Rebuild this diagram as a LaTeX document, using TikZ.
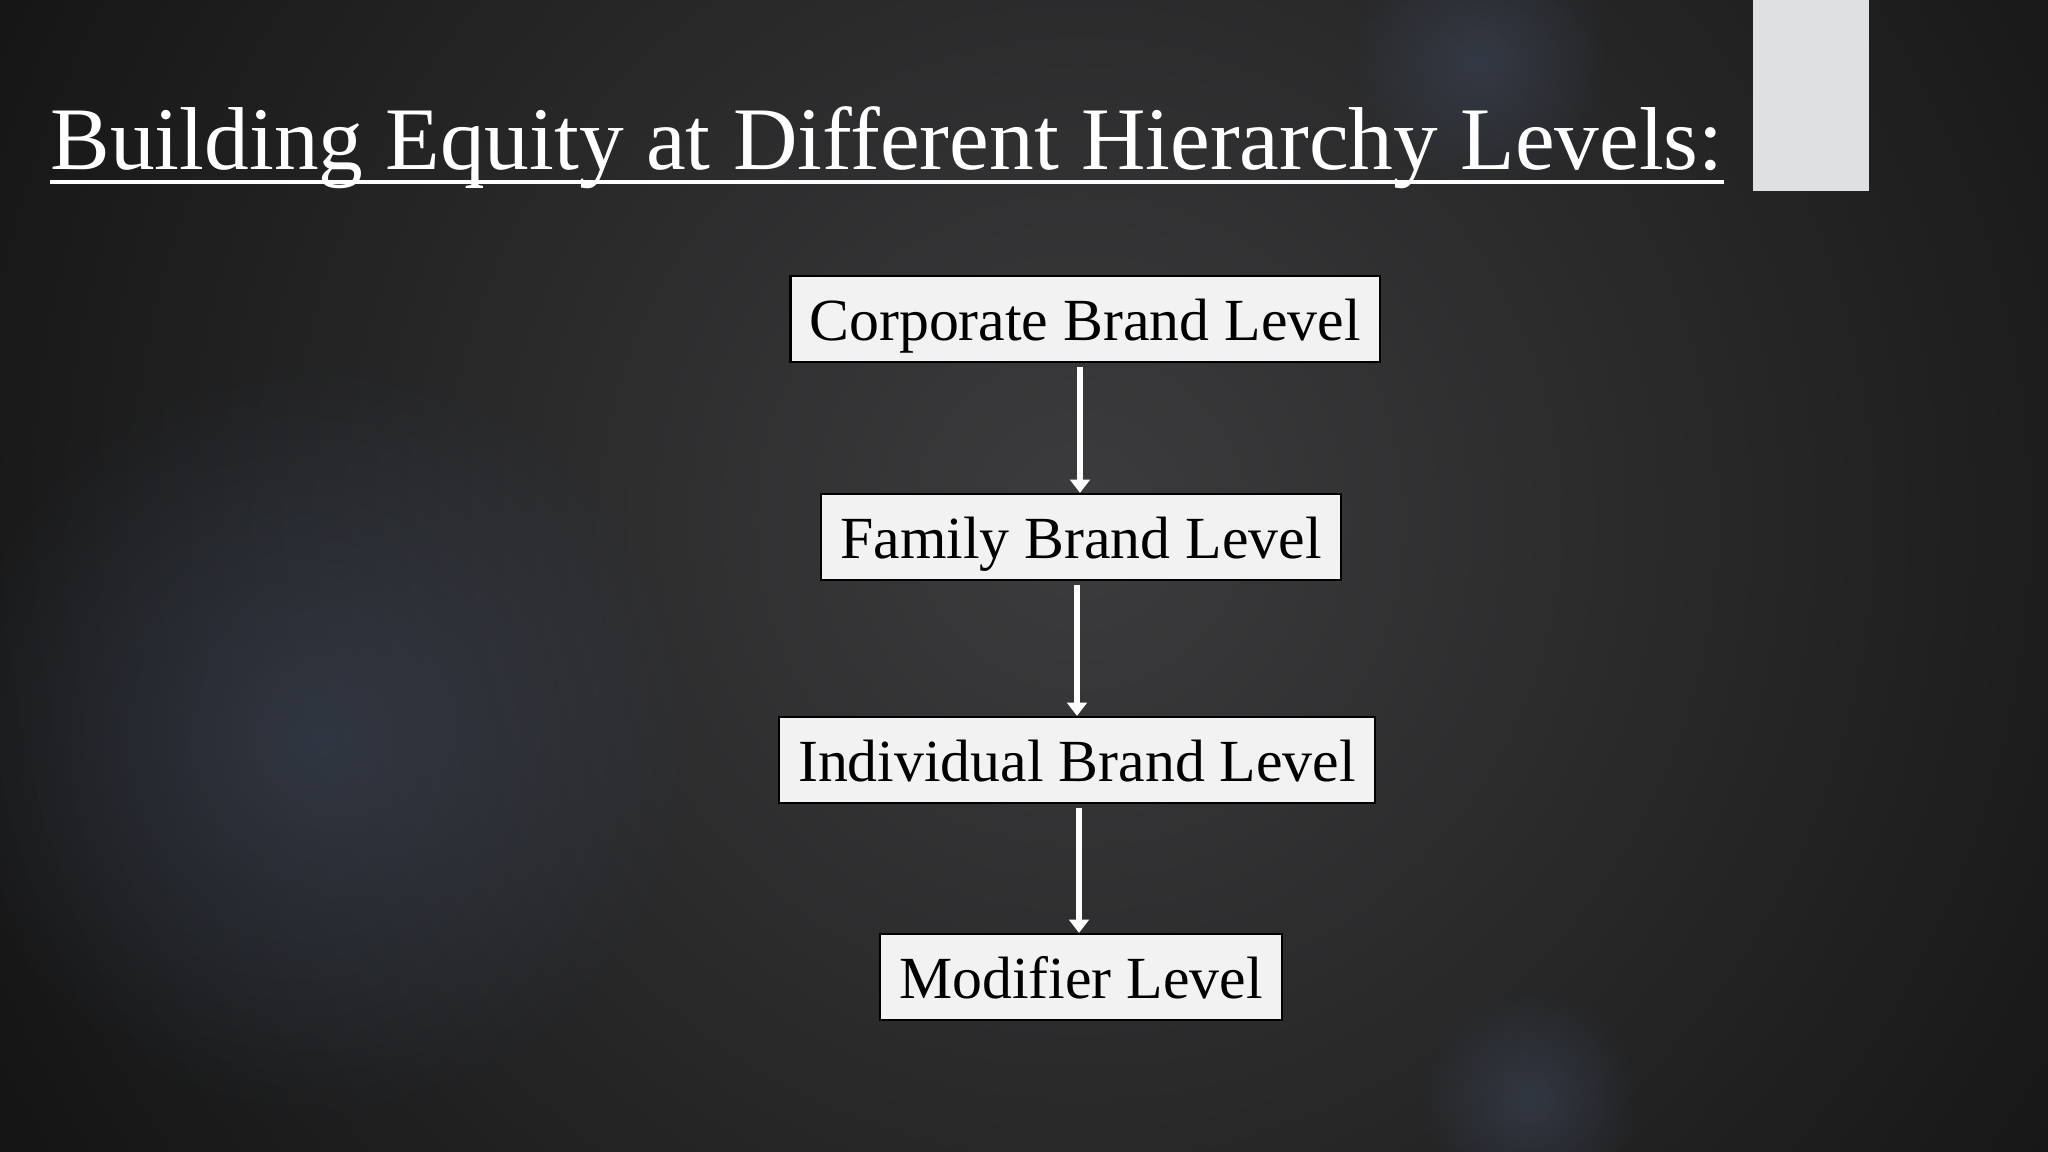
\documentclass[tikz,border=0pt]{standalone}
\usepackage{fontspec}
\setmainfont{Liberation Serif}
\usetikzlibrary{arrows.meta,fadings}

\definecolor{bgdark}{HTML}{141414}
\definecolor{bglight}{HTML}{3C3C3E}
\definecolor{boxfill}{HTML}{F2F2F2}
\definecolor{tabgrey}{HTML}{DFE0E1}
\definecolor{bokeh}{HTML}{3E4A60}

\tikzfading[name=softglow, inner color=transparent!0, outer color=transparent!100]

\begin{document}
\begin{tikzpicture}[
  x=0.01cm, y=-0.01cm,
  level/.style={draw=black, line width=0.6pt, fill=boxfill, text=black,
    font=\fontsize{17}{20}\selectfont, inner xsep=5.4pt, inner ysep=0pt,
    text height=18.5pt, text depth=6pt, anchor=center},
  link/.style={draw=white, line width=1.7pt, shorten <=1pt, -{Triangle[width=5.6pt,length=3.8pt]}},
  heading/.style={text=white, font=\fontsize{25.4}{28}\selectfont, inner sep=0pt}
  ]
	% background
	\useasboundingbox (0,0) rectangle (2048,1152);
	\fill[bgdark] (0,0) rectangle (2048,1152);
	\shade[inner color=bglight, outer color=bgdark] (1080,520) circle (1250);
	\fill[bokeh, opacity=0.5, path fading=softglow] (320,740) circle (380);
	\fill[bokeh, opacity=0.5, path fading=softglow] (1480,60) circle (130);
	\fill[bokeh, opacity=0.5, path fading=softglow] (1530,1100) circle (110);

	% title
	\node[heading, anchor=base west] (title) at (50,170) {Building Equity at Different Hierarchy Levels:};
	\draw[white, line width=1pt] ([yshift=-12*0.01cm]title.base west) -- ([yshift=-12*0.01cm]title.base east);
	\fill[tabgrey] (1753,0) rectangle (1869,191);

	% levels
	\node[level] (corporate) at (1085,319) {Corporate Brand Level};
	\node[level] (family) at (1081,537) {Family Brand Level};
	\node[level] (individual) at (1077,760) {Individual Brand Level};
	\node[level] (modifier) at (1081,977) {Modifier Level};

	\draw[link] ([xshift=-5*0.01cm]corporate.south) -- ([xshift=-5*0.01cm]corporate.south |- family.north);
	\draw[link] ([xshift=-4*0.01cm]family.south) -- ([xshift=-4*0.01cm]family.south |- individual.north);
	\draw[link] ([xshift=2*0.01cm]individual.south) -- ([xshift=2*0.01cm]individual.south |- modifier.north);
\end{tikzpicture}
\end{document}
